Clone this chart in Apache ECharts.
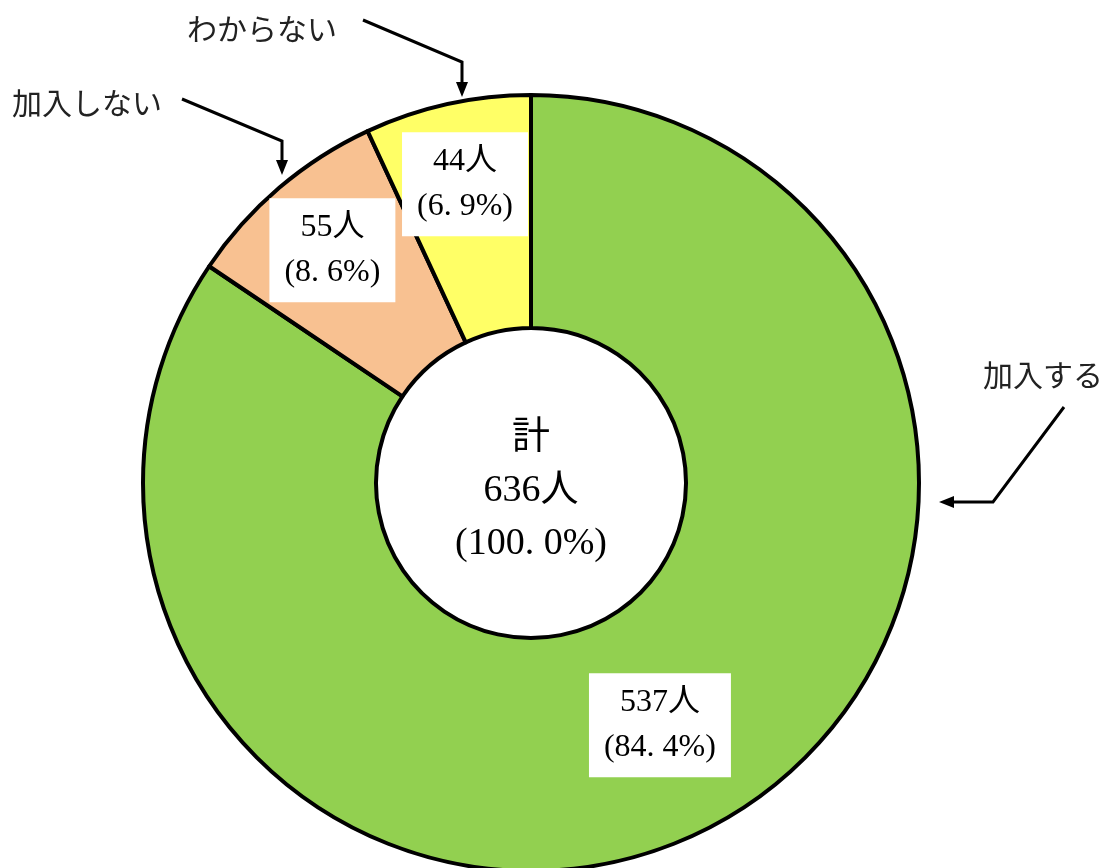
<!DOCTYPE html>
<html>
<head>
<meta charset="utf-8">
<script src="https://cdn.jsdelivr.net/npm/echarts@6/dist/echarts.min.js"></script>
<style>
html,body{margin:0;padding:0;background:#fff;}
#chart{width:1110px;height:868px;}
</style>
</head>
<body>
<div id="chart"></div>
<script>
const categories = ['加入する', '加入しない', 'わからない'];
const values = [537, 55, 44];
const colors = ['#92D050', '#F8C191', '#FFFF66'];
const totalLabel = '計';
const unit = '人';

const total = values.reduce((a, b) => a + b, 0);
function pct(v) {
  return (v / total * 100).toFixed(1).replace('.', '. ');
}
const serif = '"Liberation Serif", "DejaVu Serif", "Noto Sans CJK JP", serif';
const sans = '"Noto Sans CJK JP", sans-serif';
const C = [531, 483];

const boxLabel = {
  show: true,
  position: 'inside',
  formatter: p => p.value + unit + '\n(' + pct(p.value) + '%)',
  fontFamily: serif,
  fontSize: 32,
  lineHeight: 45,
  color: '#000',
  backgroundColor: '#fff',
  padding: [7, 15, 7, 15]
};

const chart = echarts.init(document.getElementById('chart'), null, {renderer: 'canvas'});

function arrow(points, tip, dir) {
  const s = 15, w = 6;
  let head;
  if (dir === 'down') head = [[tip[0] - w, tip[1] - s], [tip[0] + w, tip[1] - s], tip];
  else head = [[tip[0] + s, tip[1] - w], [tip[0] + s, tip[1] + w], tip];
  return [
    {type: 'polyline', shape: {points: points}, style: {stroke: '#000', lineWidth: 3, fill: null}},
    {type: 'polygon', shape: {points: head}, style: {fill: '#000'}}
  ];
}

const outerText = (text, x, y, align) => ({
  type: 'text', x: x, y: y,
  style: {text: text, font: '30px ' + sans, fill: '#222', textAlign: align || 'left', textVerticalAlign: 'middle'}
});

chart.setOption({
  backgroundColor: '#fff',
  animation: false,
  series: [
    {
      type: 'pie',
      center: C,
      radius: [155, 388],
      startAngle: 90,
      clockwise: true,
      silent: true,
      itemStyle: {borderColor: '#000', borderWidth: 4},
      labelLine: {show: false},
      data: categories.map((c, i) => ({
        name: c, value: values[i],
        itemStyle: {color: colors[i]},
        label: i === 0 ? boxLabel : {show: false}
      }))
    },
    {
      type: 'pie',
      center: C,
      radius: [218, 388],
      startAngle: 90,
      silent: true,
      z: 5,
      itemStyle: {color: 'rgba(0,0,0,0)', borderWidth: 0},
      labelLine: {show: false},
      data: categories.map((c, i) => ({
        name: c, value: values[i],
        label: i === 0 ? {show: false} : boxLabel
      }))
    },
    {
      type: 'pie',
      center: [C[0], C[1] + 8],
      radius: [0, 1],
      silent: true,
      z: 6,
      itemStyle: {color: 'rgba(0,0,0,0)', borderWidth: 0},
      labelLine: {show: false},
      label: {
        show: true,
        position: 'center',
        formatter: () => totalLabel + '\n' + total + unit + '\n(' + pct(total) + '%)',
        fontFamily: serif,
        fontSize: 38,
        lineHeight: 53,
        color: '#000'
      },
      data: [{name: totalLabel, value: total}]
    }
  ],
  graphic: [
    outerText(categories[2], 187, 29),
    outerText(categories[1], 12, 103),
    outerText(categories[0], 983, 375),
    ...arrow([[363, 20], [462, 62], [462, 85]], [462, 97], 'down'),
    ...arrow([[182, 99], [282, 141], [282, 163]], [282, 175], 'down'),
    ...arrow([[1064, 407], [993, 502], [950, 502]], [939, 502], 'left')
  ]
});
</script>
</body>
</html>
